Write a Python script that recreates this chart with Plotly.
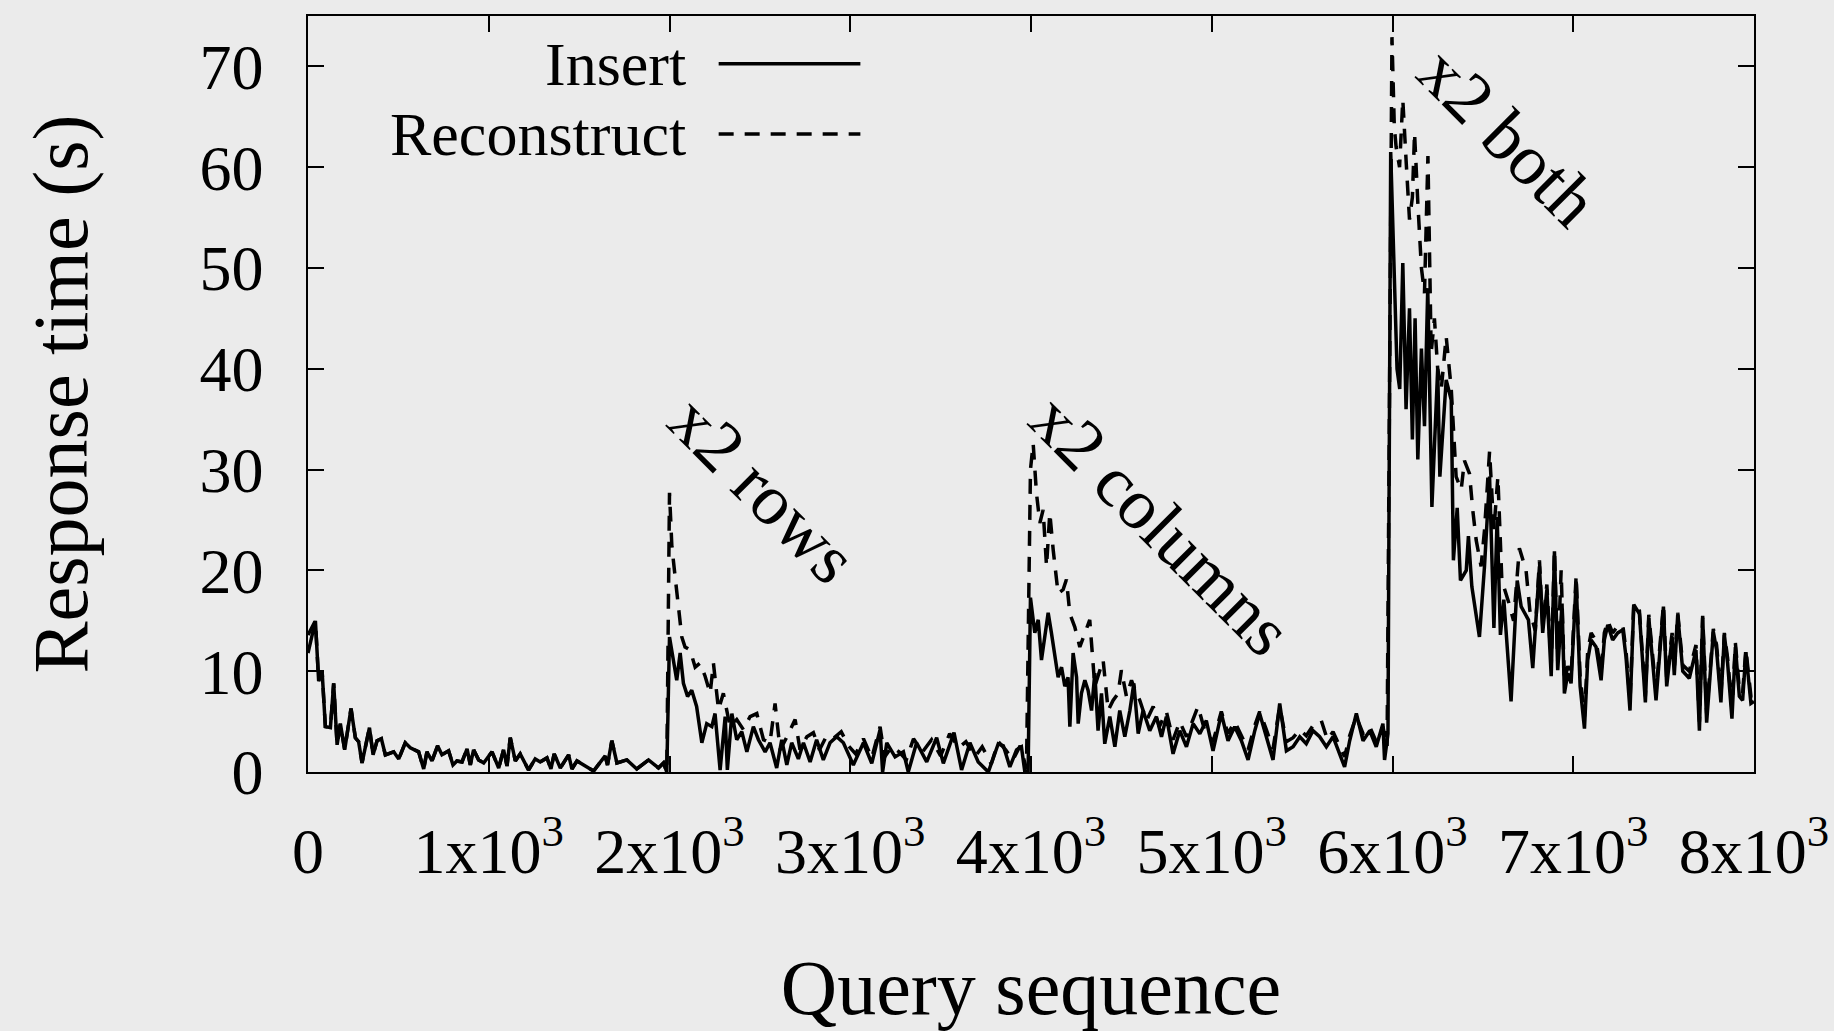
import plotly.graph_objects as go

# query index / response time (s)
insert_x = [
    0, 41, 59, 78, 96, 124, 142, 161, 179, 203, 238, 262, 280, 299, 340, 360, 382, 406, 428, 474,
    502, 538, 566, 612, 640, 658, 686, 717, 741, 778, 802, 824, 852, 880, 898, 916, 944, 972, 1018, 1055,
    1082, 1101, 1119, 1147, 1174, 1220, 1257, 1285, 1322, 1344, 1362, 1396, 1442, 1460, 1488, 1534, 1580, 1644, 1657, 1681,
    1709, 1764, 1819, 1884, 1939, 1967, 1985,
    2000, 2040, 2059, 2077, 2100, 2123, 2150, 2179, 2206, 2234, 2252, 2280, 2308, 2320, 2345, 2372, 2400, 2428, 2464, 2492,
    2529, 2556, 2593, 2621, 2649, 2676, 2713, 2741, 2778, 2814, 2851, 2888, 2925, 2962, 3017, 3073, 3119, 3165, 3179, 3202,
    3248, 3294, 3321, 3367, 3423, 3478, 3515, 3574, 3616, 3662, 3708, 3764, 3819, 3847, 3883, 3920, 3947, 3966, 3984,
    3997, 4021, 4040, 4058, 4077, 4095, 4113, 4132, 4150, 4169, 4187, 4205, 4215, 4233, 4252, 4261, 4279, 4298, 4316, 4335,
    4353, 4371, 4390, 4408, 4436, 4464, 4491, 4519, 4547, 4569, 4593, 4620, 4657, 4694, 4722, 4749, 4786, 4823, 4860, 4897,
    4934, 4970, 5007, 5053, 5090, 5127, 5164, 5201, 5238, 5265, 5302, 5339, 5376, 5413, 5450, 5487, 5523, 5560, 5597, 5634,
    5671, 5708, 5735, 5763, 5800, 5837, 5874, 5910, 5947, 5956, 5975,
    5990, 6010, 6025, 6040, 6057, 6075, 6094, 6110, 6125, 6140, 6160, 6177, 6195, 6218, 6232, 6250, 6262, 6280, 6297, 6325,
    6337, 6358, 6376, 6408, 6420, 6439, 6481, 6509, 6537, 6561, 6579, 6597, 6616, 6656, 6690, 6712, 6752, 6776, 6813, 6831,
    6854, 6878, 6896, 6914, 6938, 6951, 6970, 6988, 7016, 7038, 7062, 7080, 7099, 7126, 7154, 7172, 7191, 7218, 7246, 7274,
    7292, 7314, 7335, 7366, 7399, 7418, 7458, 7499, 7517, 7547, 7559, 7578, 7606, 7642, 7679, 7698, 7716, 7738, 7775, 7793,
    7817, 7836, 7854, 7878, 7897, 7919, 7937, 7955, 7983, 8000,
]
insert_y = [
    11.8, 15, 9, 10, 4.5, 4.4, 8.8, 2.7, 4.8, 2.2, 6.3, 3.4, 3, 0.9, 4.4, 1.7, 3.1, 3.3, 1.7, 2,
    1.3, 2.9, 2.4, 2, 0.3, 2, 1.1, 2.6, 1.7, 2.1, 0.7, 1.1, 1, 2.3, 0.7, 2.2, 1.2, 0.9, 2, 0.4,
    2.2, 0.6, 3.4, 1.1, 1.8, 0.2, 1.3, 1, 1.4, 0.3, 1.8, 0.4, 1.7, 0.3, 1.1, 0.6, 0.1, 1.6, 0.7, 3.1,
    0.9, 1.2, 0.3, 1.2, 0.4, 0.9, 0.0,
    13.4, 9.1, 11.8, 8.8, 7.5, 8.1, 6.5, 2.9, 4.8, 4.5, 5.8, 0.2, 5.5, 0.2, 5.8, 3.2, 4.0, 2.0, 4.5, 3.2,
    2.0, 2.9, 0.4, 3.2, 0.7, 2.9, 1.3, 2.9, 1.0, 3.2, 1.2, 2.9, 3.5, 2.9, 0.7, 2.9, 0.85, 4.2, 0, 2.9,
    1.5, 2.0, 0, 2.9, 1.0, 3.4, 0.85, 3.9, 0.2, 2.9, 1.0, 0, 2.8, 2.6, 0.5, 2.2, 2.5, 0, 0,
    17.3, 13.8, 15.1, 11.1, 13.8, 15.8, 13.8, 11.8, 9.4, 10.4, 8.5, 9.4, 4.5, 11.8, 9.4, 4.8, 7.8, 9.1, 8.1, 6.1,
    9.8, 4.1, 7.8, 2.8, 5.5, 2.5, 6.1, 3.5, 6.1, 8.8, 3.8, 6.1, 4.1, 5.5, 3.5, 5.5, 1.8, 4.1, 2.5, 4.8,
    3.8, 5.1, 2.1, 5.8, 3.1, 4.5, 3.1, 1.2, 4.1, 5.8, 3.5, 1.2, 6.8, 2.1, 2.5, 3.5, 2.8, 4.1, 3.5, 2.5,
    3.5, 1.8, 0.5, 3.1, 5.8, 3.1, 4.1, 2.5, 4.8, 1.2, 3.8,
    61.5, 50, 40, 38, 50.5, 36, 46, 33, 45, 31, 42, 34.3, 48, 26.3, 32.3, 40, 29.3, 35, 38.9, 36.9,
    21, 26.2, 19, 20, 23.4, 18.4, 13.4, 20.4, 29.3, 14.3, 25.3, 13.6, 17.1, 7.0, 19.0, 16.4, 15.1, 10.3, 20.4, 13.8,
    18.1, 9.5, 21.9, 10.1, 16.7, 7.8, 9.8, 8.8, 18.9, 8.5, 4.3, 11.1, 13.1, 12.4, 9.1, 13.1, 14.6, 13.1, 13.8, 14.1,
    11.4, 6.1, 16.6, 15.7, 6.9, 15.3, 7.1, 16.4, 8.5, 13.4, 9.6, 15.6, 10.0, 9.3, 12.1, 4.1, 15.3, 4.9, 13.9, 12.1,
    6.9, 13.6, 10.8, 5.3, 12.4, 7.5, 7.1, 11.9, 6.8, 7.0,
]

reconstruct_x = [
    0, 41, 59, 78, 96, 124, 142, 161, 179, 203, 238, 262, 280, 299, 340, 360, 382, 406, 428, 474,
    502, 538, 566, 612, 640, 658, 686, 717, 741, 778, 802, 824, 852, 880, 898, 916, 944, 972, 1018, 1055,
    1082, 1101, 1119, 1147, 1174, 1220, 1257, 1285, 1322, 1344, 1362, 1396, 1442, 1460, 1488, 1534, 1580, 1644, 1657, 1681,
    1709, 1764, 1819, 1884, 1939, 1967, 1985,
    2000, 2013, 2031, 2050, 2068, 2086, 2114, 2142, 2169, 2197, 2225, 2243, 2271, 2298, 2335, 2372, 2409, 2446, 2483, 2520,
    2556, 2584, 2612, 2650, 2695, 2722, 2760, 2796, 2830, 2870, 2910, 2950, 2990, 3030, 3073, 3119, 3165, 3190, 3230, 3270,
    3310, 3350, 3400, 3450, 3500, 3550, 3600, 3640, 3690, 3730, 3780, 3819, 3860, 3900, 3940, 3975,
    3997, 4012, 4030, 4049, 4067, 4086, 4104, 4123, 4150, 4178, 4196, 4215, 4242, 4270, 4298, 4325, 4353, 4381, 4399, 4427,
    4454, 4482, 4500, 4528, 4556, 4583, 4602, 4639, 4676, 4710, 4749, 4786, 4823, 4860, 4897, 4924, 4960, 5007, 5053, 5090,
    5127, 5164, 5201, 5238, 5265, 5302, 5339, 5376, 5413, 5450, 5487, 5523, 5560, 5606, 5640, 5671, 5708, 5735, 5763, 5800,
    5837, 5874, 5910, 5947, 5970,
    5997, 6010, 6020, 6039, 6057, 6076, 6094, 6110, 6122, 6140, 6160, 6177, 6196, 6214, 6232, 6250, 6270, 6297, 6325, 6352,
    6380, 6398, 6426, 6444, 6463, 6490, 6509, 6537, 6561, 6583, 6605, 6640, 6670, 6702, 6739, 6760, 6790, 6813, 6831, 6854,
    6878, 6896, 6914, 6933, 6951, 6970, 6988, 7016, 7038, 7062, 7080, 7099, 7126, 7154, 7172, 7191, 7218, 7246, 7274, 7292,
    7314, 7335, 7366, 7399, 7418, 7458, 7499, 7517, 7547, 7559, 7578, 7606, 7642, 7679, 7698, 7716, 7738, 7775, 7793, 7817,
    7836, 7854, 7878, 7897, 7919, 7937, 7955, 7983, 8000,
]
reconstruct_y = [
    13.6, 15, 9, 10, 4.5, 4.4, 8.8, 2.7, 4.8, 2.2, 6.3, 3.4, 3, 0.9, 4.4, 1.7, 3.1, 3.3, 1.7, 2,
    1.3, 2.9, 2.4, 2, 0.3, 2, 1.1, 2.6, 1.7, 2.1, 0.7, 1.1, 1, 2.3, 0.7, 2.2, 1.2, 0.9, 2, 0.4,
    2.2, 0.6, 3.4, 1.1, 1.8, 0.2, 1.3, 1, 1.4, 0.3, 1.8, 0.4, 1.7, 0.3, 1.1, 0.6, 0.1, 1.6, 0.7, 3.1,
    0.9, 1.2, 0.3, 1.2, 0.4, 0.9, 0.0,
    27.7, 22.4, 19.4, 16.1, 13.4, 12.4, 12.1, 10.4, 10.8, 9.5, 7.8, 10.8, 6.2, 7.8, 4.5, 5.2, 4.2, 5.5, 5.8, 3.2,
    2.9, 6.8, 2.2, 3.5, 5.2, 2.2, 3.5, 3.9, 2.2, 3.6, 3.4, 4.0, 2.6, 1.8, 3.3, 1.4, 4.5, 1.5, 2.5, 2.0,
    1.2, 3.3, 2.0, 3.2, 1.6, 3.8, 2.4, 3.0, 1.5, 2.5, 0.8, 3.0, 2.2, 1.2, 2.6, 0.3,
    30, 32.6, 27.7, 24.7, 26, 20.4, 25.7, 22, 17.7, 18.1, 19.1, 15.7, 14.4, 12.4, 13.8, 15.1, 8.5, 10.1, 11.1, 6.1,
    7.1, 7.8, 10.1, 7.5, 9.1, 7.8, 7.1, 5.1, 6.5, 4.5, 6.0, 3.2, 5.0, 3.5, 5.2, 6.5, 4.2, 3.0, 6.0, 3.8,
    5.0, 3.6, 2.2, 4.6, 6.0, 4.2, 2.3, 6.5, 3.0, 3.4, 4.2, 3.6, 4.6, 5.1, 3.2, 4.0, 2.6, 1.5, 3.6, 5.5,
    3.8, 4.5, 3.0, 4.5, 2.5,
    72.9, 64, 62, 60, 66.7, 60.4, 54.8, 57, 63.4, 56.5, 50, 47.5, 61.1, 41.6, 45, 40, 38, 43.2, 38, 29.3,
    28, 30.9, 29.6, 26, 23, 20.4, 24, 31.8, 24, 29.3, 19, 17, 15, 22.2, 20, 16, 14, 21, 14.5, 18.6,
    10.5, 22.0, 11, 20, 9, 10.5, 9.5, 19.5, 9.5, 5.5, 12, 13.8, 13, 10, 13.8, 15, 13.8, 14.5, 14.6, 12,
    7, 16.8, 16, 7.5, 15.6, 8, 16.6, 9.2, 13.8, 10.2, 15.8, 10.6, 10, 12.6, 5, 15.5, 5.8, 14.2, 12.6, 7.6,
    13.8, 11.3, 6.2, 12.8, 8.2, 7.8, 12.2, 7.5, 7.8,
]

x_ticks = [0, 1000, 2000, 3000, 4000, 5000, 6000, 7000, 8000]
x_ticktext = ["0"] + [f"{i}x10<sup>3</sup>" for i in range(1, 9)]
y_ticks = [0, 10, 20, 30, 40, 50, 60, 70]

# labels on the plot: text, x, y
labels = [
    ("x2 rows", 2520, 28),
    ("x2 columns", 4720, 24.5),
    ("x2 both", 6640, 63),
]

serif = "Liberation Serif"
bg = "#ebebeb"
dashes = "15px,11px"

fig = go.Figure()

fig.add_scatter(
    x=reconstruct_x, y=reconstruct_y, mode="lines", name="Reconstruct",
    line=dict(color="black", width=3.5, dash=dashes), showlegend=False,
)
fig.add_scatter(
    x=insert_x, y=insert_y, mode="lines", name="Insert",
    line=dict(color="black", width=3.5), showlegend=False,
)

for text, lx, ly in labels:
    fig.add_annotation(
        x=lx, y=ly, text=text, showarrow=False, textangle=45,
        font=dict(family=serif, size=72, color="black"),
    )

# legend drawn gnuplot-style: text on the left, sample on the right
for name, yp, dash in [("Insert", 0.937, "solid"), ("Reconstruct", 0.844, dashes)]:
    fig.add_annotation(
        xref="paper", yref="paper", x=0.263, y=yp, xanchor="right", yanchor="middle",
        text=name, showarrow=False, font=dict(family=serif, size=62, color="black"),
    )
    fig.add_shape(
        type="line", xref="paper", yref="paper", x0=0.284, x1=0.382, y0=yp, y1=yp,
        line=dict(color="black", width=3.5, dash=dash),
    )

fig.update_layout(
    width=1834,
    height=1031,
    margin=dict(l=308, r=80, t=16, b=259),
    paper_bgcolor=bg,
    plot_bgcolor=bg,
    font=dict(family=serif, size=64, color="black"),
)

fig.update_xaxes(
    range=[0, 8000], tickvals=x_ticks, ticktext=x_ticktext,
    ticks="inside", ticklen=16, tickwidth=1.5, tickcolor="black",
    showline=True, linecolor="black", linewidth=1.5, mirror="allticks",
    showgrid=False, zeroline=False, ticklabelstandoff=22,
    ticklabeloverflow="allow", automargin=False,
    tickfont=dict(family=serif, size=64),
    title=dict(text="Query sequence", font=dict(family=serif, size=78), standoff=74),
)
fig.update_yaxes(
    range=[0, 75], tickvals=y_ticks,
    ticks="inside", ticklen=16, tickwidth=1.5, tickcolor="black",
    showline=True, linecolor="black", linewidth=1.5, mirror="allticks",
    showgrid=False, zeroline=False, ticklabelstandoff=30, automargin=False,
    tickfont=dict(family=serif, size=64),
    title=dict(text="Response time (s)", font=dict(family=serif, size=78), standoff=86),
)

fig.write_html(
    "out.html",
    config={"displayModeBar": False},
    post_script="document.body.style.margin='0';document.body.style.overflow='hidden';",
)
